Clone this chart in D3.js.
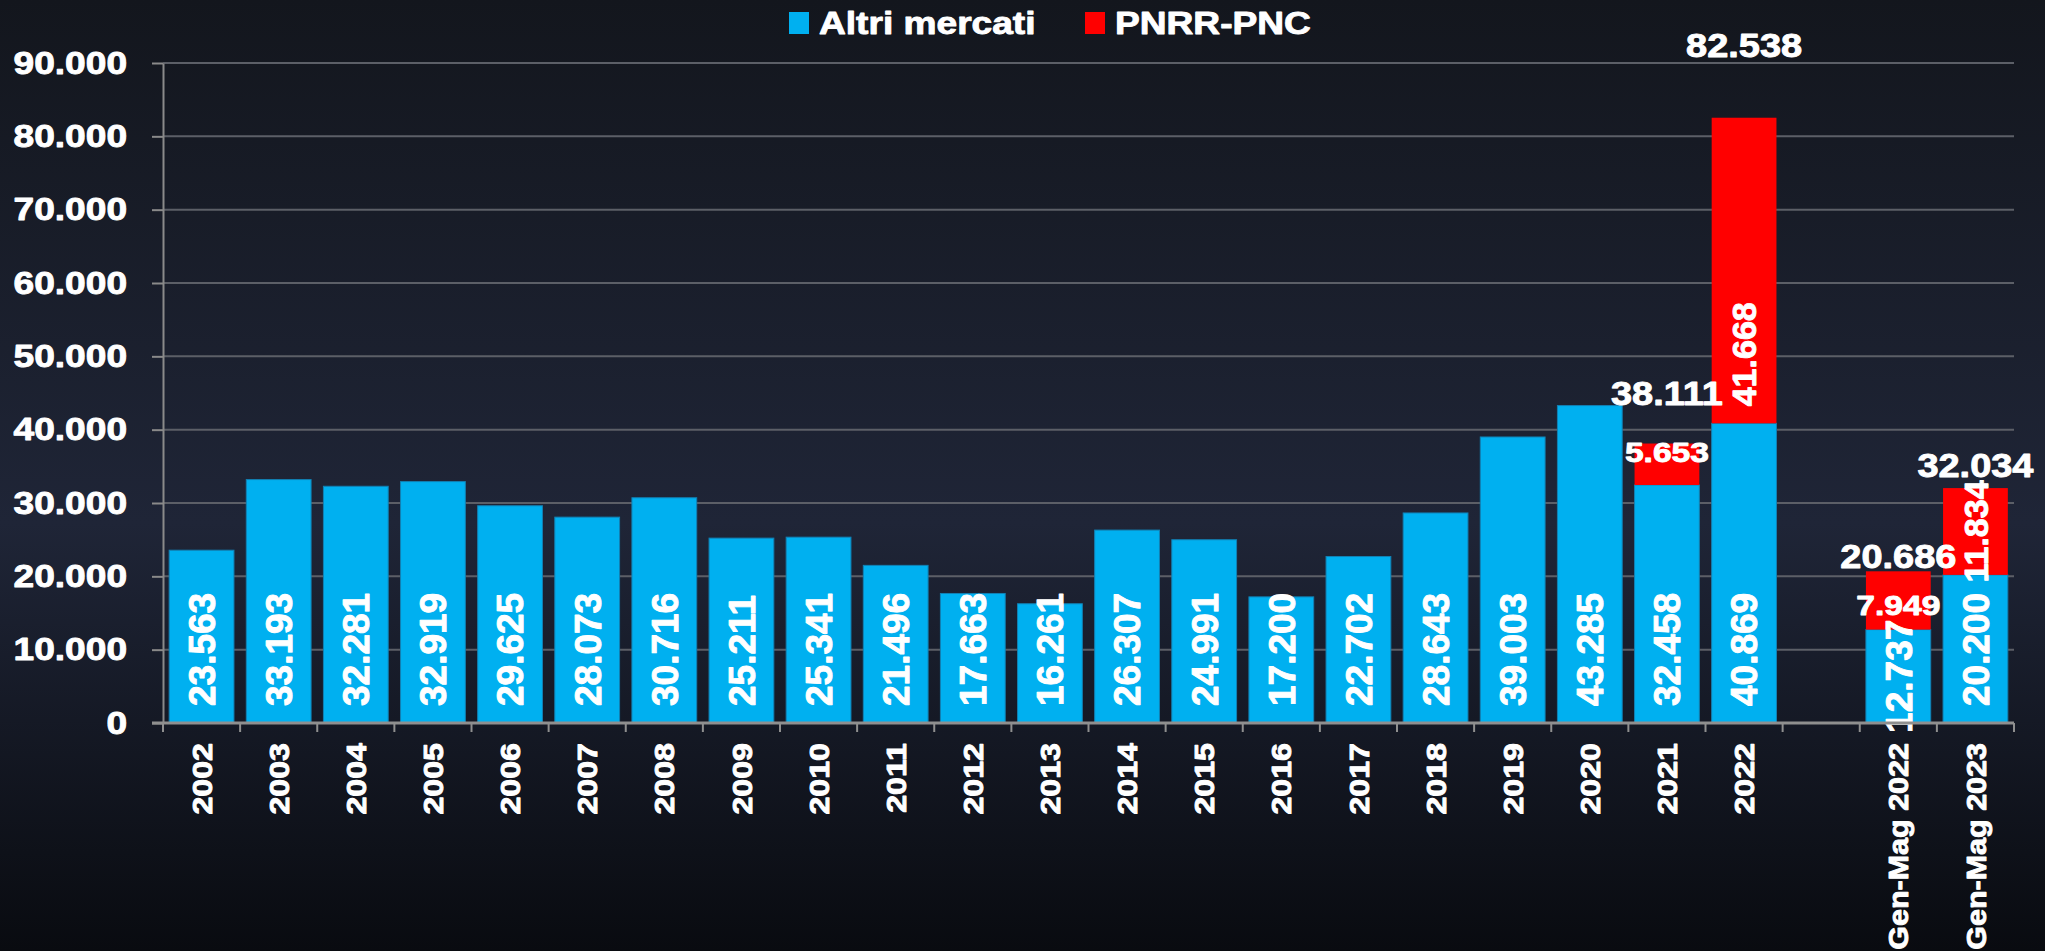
<!DOCTYPE html>
<html>
<head>
<meta charset="utf-8">
<script src="https://cdn.jsdelivr.net/npm/d3@7"></script>
<style>
  html, body { margin: 0; padding: 0; background: #0d1017; overflow: hidden; }
  svg { display: block; font-family: "Liberation Sans", Arial, sans-serif; font-weight: bold; }
</style>
</head>
<body>
<svg id="chart"></svg>
<script>
const categorie = ['2002', '2003', '2004', '2005', '2006', '2007', '2008', '2009', '2010', '2011',
  '2012', '2013', '2014', '2015', '2016', '2017', '2018', '2019', '2020', '2021', '2022',
  '', 'Gen-Mag 2022', 'Gen-Mag 2023']

const altriMercati = [23563, 33193, 32281, 32919, 29625, 28073, 30716, 25211, 25341, 21496,
  17663, 16261, 26307, 24991, 17200, 22702, 28643, 39003, 43285, 32458, 40869,
  null, 12737, 20200]

const pnrrPnc = [null, null, null, null, null, null, null, null, null, null,
  null, null, null, null, null, null, null, null, null, 5653, 41668,
  null, 7949, 11834]

const totali = [null, null, null, null, null, null, null, null, null, null,
  null, null, null, null, null, null, null, null, null, 38111, 82538,
  null, 20686, 32034]

const serie = ['Altri mercati', 'PNRR-PNC']
const yTickValues = [0, 10000, 20000, 30000, 40000, 50000, 60000, 70000, 80000, 90000]

const colori = ['#00b0f0', '#ff0000']

const width = 2045
const height = 951
const plotLeft = 163
const plotRight = 2014
const plotTop = 63
const plotBottom = 723

const locale = d3.formatLocale({ decimal: ',', thousands: '.', grouping: [3], currency: ['€', ''] })
const fmt = locale.format(',')

const svg = d3.select('#chart')
  .attr('width', width)
  .attr('height', height)

const grad = svg.append('defs')
  .append('linearGradient')
  .attr('id', 'bg')
  .attr('x1', 0).attr('y1', 0).attr('x2', 0).attr('y2', 1)
grad.append('stop').attr('offset', '0%').attr('stop-color', '#13161d')
grad.append('stop').attr('offset', '55%').attr('stop-color', '#1f2537')
grad.append('stop').attr('offset', '100%').attr('stop-color', '#090b10')

svg.append('rect')
  .attr('width', width)
  .attr('height', height)
  .attr('fill', 'url(#bg)')

const x = d3.scaleBand(categorie, [plotLeft, plotRight])
  .paddingInner(0.16)
  .paddingOuter(0.08)

const y = d3.scaleLinear([0, 90000], [plotBottom, plotTop])

// griglia
svg.append('g')
  .selectAll('line')
  .data(yTickValues.filter(v => v > 0))
  .join('line')
  .attr('x1', plotLeft)
  .attr('x2', plotRight)
  .attr('y1', d => y(d))
  .attr('y2', d => y(d))
  .attr('stroke', '#5c5f67')
  .attr('stroke-width', 2)

// testo un po' più pesante, come nell'originale
const heavy = sel => sel
  .attr('fill', '#fff')
  .attr('stroke', '#fff')
  .attr('stroke-width', 0.9)
  .attr('stroke-linejoin', 'round')

// asse y
const stretch = 1.16
svg.append('g')
  .attr('transform', `translate(${plotLeft},0)`)
  .call(d3.axisLeft(y).tickValues(yTickValues).tickFormat(fmt).tickSize(11).tickSizeOuter(0).tickPadding(25))
  .attr('font-family', null)
  .attr('font-size', 32)
  .call(g => {
    g.select('.domain').attr('stroke', '#8a8a8a').attr('stroke-width', 2)
    g.selectAll('.tick line').attr('stroke', '#8a8a8a').attr('stroke-width', 2)
    g.selectAll('.tick text')
      .call(heavy)
      .attr('x', -36 / stretch)
      .attr('transform', `scale(${stretch},1)`)
  })

// barre impilate
const rows = categorie.map((c, i) => ({
  cat: c,
  altri: altriMercati[i] ?? 0,
  pnrr: pnrrPnc[i] ?? 0,
  totale: totali[i]
}))

const stacked = d3.stack().keys(['altri', 'pnrr'])(rows)

svg.append('g')
  .selectAll('g')
  .data(stacked)
  .join('g')
  .attr('fill', (d, i) => colori[i])
  .attr('stroke', (d, i) => i === 0 ? '#1281b4' : 'none')
  .selectAll('rect')
  .data(d => d.filter(p => p[1] > p[0]))
  .join('rect')
  .attr('x', p => x(p.data.cat))
  .attr('width', x.bandwidth())
  .attr('y', p => y(p[1]))
  .attr('height', p => y(p[0]) - y(p[1]))
  .attr('stroke-width', 1)

// etichette dentro le barre
const horizontal = { '2021': -2, 'Gen-Mag 2022': 15 }
const labels = svg.append('g').call(heavy)

stacked.forEach(layer => {
  layer.filter(p => p[1] > p[0]).forEach(p => {
    const v = p[1] - p[0]
    const cx = x(p.data.cat) + x.bandwidth() / 2
    const y0 = y(p[0])
    const y1 = y(p[1])
    if (layer.key === 'pnrr' && horizontal[p.data.cat] !== undefined) {
      labels.append('text')
        .text(fmt(v))
        .attr('font-size', 28)
        .attr('text-anchor', 'middle')
        .attr('transform', `translate(${cx},${(y0 + y1) / 2 + horizontal[p.data.cat]}) scale(1.2,1)`)
      return
    }
    const t = labels.append('text')
      .text(fmt(v))
      .attr('font-size', layer.key === 'altri' ? 37 : 34)
      .attr('text-anchor', 'start')
      .attr('dy', '0.36em')
    const len = t.node().getComputedTextLength()
    const start = len <= y0 - y1 ? y0 - 17 : (y0 + y1) / 2 + len / 2
    t.attr('transform', `translate(${cx},${start}) rotate(-90)`)
  })
})

// totali sopra le barre
const totalLift = { '2021': 39, '2022': 61, 'Gen-Mag 2022': 3, 'Gen-Mag 2023': 11 }
svg.append('g')
  .call(heavy)
  .selectAll('text')
  .data(rows.filter(r => r.totale != null))
  .join('text')
  .text(r => fmt(r.totale))
  .attr('font-size', 33)
  .attr('text-anchor', 'middle')
  .attr('transform', r => `translate(${x(r.cat) + x.bandwidth() / 2},${y(r.totale) - totalLift[r.cat]}) scale(1.15,1)`)

// asse x
svg.append('g')
  .attr('transform', `translate(0,${plotBottom})`)
  .call(d3.axisBottom(x).tickSize(0).tickSizeOuter(0).tickPadding(0))
  .attr('font-family', null)
  .attr('font-size', 28)
  .call(g => {
    g.select('.domain').remove()
    g.selectAll('.tick text')
      .call(heavy)
      .attr('y', 0)
      .attr('dy', '0.36em')
      .attr('text-anchor', 'end')
      .attr('transform', d => `translate(0,20) rotate(-90) scale(${d.length > 4 ? 1.09 : 1.15},1)`)
  })

const gap = (x.step() - x.bandwidth()) / 2
const bounds = categorie.map(c => x(c) - gap).concat([plotRight])

svg.append('g')
  .selectAll('line')
  .data(bounds)
  .join('line')
  .attr('x1', d => d)
  .attr('x2', d => d)
  .attr('y1', plotBottom)
  .attr('y2', plotBottom + 9)
  .attr('stroke', '#8f8f8f')
  .attr('stroke-width', 2)

svg.append('line')
  .attr('x1', plotLeft - 11)
  .attr('x2', plotRight)
  .attr('y1', plotBottom)
  .attr('y2', plotBottom)
  .attr('stroke', '#8f8f8f')
  .attr('stroke-width', 3)

// legenda
const legendX = [789, 1085]
const legend = svg.append('g')
  .selectAll('g')
  .data(serie)
  .join('g')
  .attr('transform', (d, i) => `translate(${legendX[i]},0)`)

legend.append('rect')
  .attr('y', 12)
  .attr('width', 20)
  .attr('height', 22)
  .attr('fill', (d, i) => colori[i])

legend.append('text')
  .text(d => d)
  .call(heavy)
  .attr('font-size', 32)
  .attr('transform', `translate(30,34) scale(${stretch},1)`)
</script>
</body>
</html>
